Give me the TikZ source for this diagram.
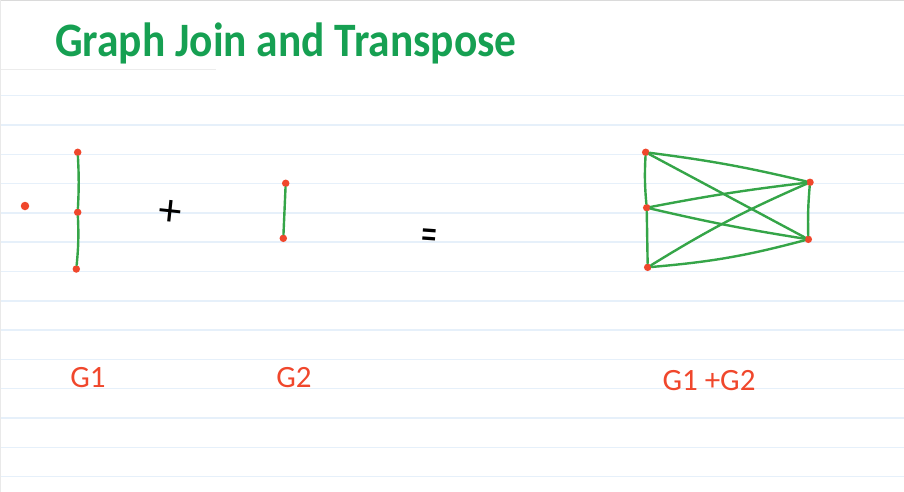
\documentclass[tikz,border=0pt]{standalone}
\usepackage{fontspec}
\setmainfont{Carlito}
\usepackage{tikz}
\usetikzlibrary{arrows.meta}
\definecolor{titleGreen}{HTML}{16A052}
\definecolor{penGreen}{HTML}{35A548}
\definecolor{penRed}{HTML}{F0472C}
\definecolor{ruleBlue}{HTML}{E6F0FA}
\definecolor{ruleGrey}{HTML}{DADADA}

\begin{document}
\begin{tikzpicture}[x=1pt,y=-1pt,
  vtx/.style={circle,fill=penRed,inner sep=0pt,minimum size=7.5pt},
  edge/.style={penGreen,line width=2.4pt,line cap=round},
  lbl/.style={text=penRed,font=\fontsize{31}{31}\selectfont,inner sep=0pt},
  sym/.style={font=\fontsize{46}{46}\selectfont,inner sep=0pt}
]
\useasboundingbox (0,0) rectangle (904,492);
% ruled page
\foreach \k in {0,...,13}
  \draw[ruleBlue,line width=1.5pt] (0,95.7+29.3*\k) -- (904,95.7+29.3*\k);
\draw[ruleGrey,line width=1.2pt] (0,0.6) -- (904,0.6);
\draw[ruleGrey!50,line width=1pt] (0,69.7) -- (216,69.7);
\draw[ruleGrey!60] (0.5,0) -- (0.5,492);

\node[anchor=base west,inner sep=0pt,text=titleGreen,font=\fontsize{48}{48}\selectfont\bfseries] (title) at (55,56.7) {\scalebox{0.905}[1]{Graph Join and Transpose}};

% G1
\node[vtx,minimum size=8.5pt] (g0) at (25,206) {};
\node[vtx] (g1) at (77.7,152.3) {};
\node[vtx] (g2) at (77.7,212.3) {};
\node[vtx] (g3) at (76.3,269) {};
\draw[edge] (g1) to[bend left=3] (g2);
\draw[edge] (g2) to[bend left=4] (g3);

\node[sym,rotate=-6] (plus) at (170,213) {+};

% G2
\node[vtx] (h1) at (285.7,183.3) {};
\node[vtx] (h2) at (283.3,238.3) {};
\draw[edge] (h1) -- (h2);

\node[sym,font=\fontsize{30}{30}\selectfont,rotate=-4] (eq) at (429,240) {\scalebox{1.05}[1.7]{=}};

% G1 + G2
\node[vtx] (l1) at (645.7,152.3) {};
\node[vtx] (l2) at (646.7,207.7) {};
\node[vtx] (l3) at (647.7,267.3) {};
\node[vtx] (r1) at (810,182.3) {};
\node[vtx] (r2) at (808.3,239.3) {};
\draw[edge] (l1) to[bend right=4] (l2);
\draw[edge] (l2) -- (l3);
\draw[edge] (r1) to[bend right=3] (r2);
\draw[edge] (l1) to[bend left=3] (r1);
\draw[edge] (l1) -- (r2);
\draw[edge] (l2) to[bend left=2] (r1);
\draw[edge] (l2) to[bend right=2] (r2);
\draw[edge] (l3) to[bend left=4] (r1);
\draw[edge] (l3) to[bend right=5] (r2);

% labels
\node[lbl] (lg1) at (88,378) {G1};
\node[lbl] (lg2) at (294,378) {G2};
\node[lbl] (lsum) at (709,381) {G1 +G2};
\end{tikzpicture}
\end{document}
